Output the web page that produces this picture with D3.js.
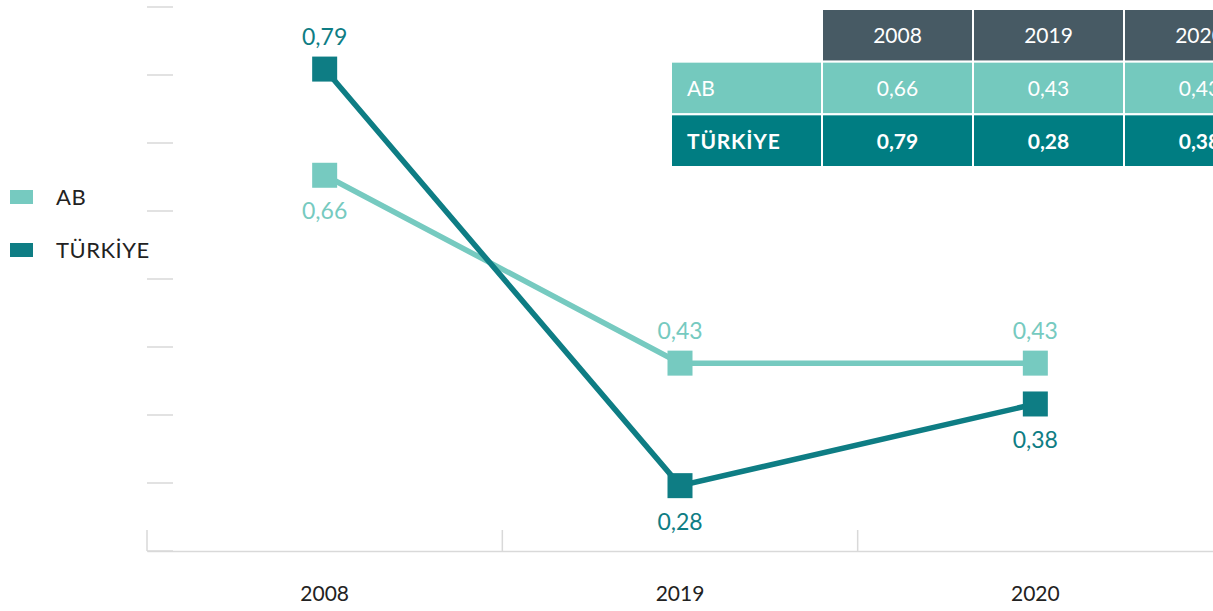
<!DOCTYPE html>
<html>
<head>
<meta charset="utf-8">
<script src="https://cdn.jsdelivr.net/npm/d3@7"></script>
<style>
  body { margin: 0; background: #fff; }
  svg { display: block; font-family: Lato, 'Open Sans', sans-serif; }
</style>
</head>
<body>
<div id="chart"></div>
<script>
// data
const years = ['2008', '2019', '2020'];
const abValues = [0.66, 0.43, 0.43];
const trValues = [0.79, 0.28, 0.38];
const seriesNames = ['AB', 'TÜRKİYE'];
const seriesColors = ['#76cac0', '#0e7d84'];
// label position per point: -1 above, 1 below
const abLabelSide = [1, -1, -1];
const trLabelSide = [-1, 1, 1];

const W = 1213, H = 611;
const fmt = v => d3.format('.2f')(v).replace('.', ',');

const svg = d3.select('div#chart').append('svg')
  .attr('width', W)
  .attr('height', H);

const x = d3.scaleBand().domain(years).range([147, 1213]).padding(0);
const y = d3.scaleLinear().domain([0.2, 0.866]).range([551, 7]);
const yTicks = d3.range(9).map(i => 0.2 + i * (0.666 / 8));

// short gray tick marks on the left
svg.append('g')
  .selectAll('line')
  .data(yTicks)
  .enter()
  .append('line')
  .attr('x1', 147)
  .attr('x2', 173)
  .attr('y1', d => y(d))
  .attr('y2', d => y(d))
  .attr('stroke', '#d9d9d9')
  .attr('stroke-width', 1.5);

// x axis
const xAxis = d3.axisBottom(x).tickSize(0).tickPadding(35);
const gx = svg.append('g')
  .attr('transform', `translate(0, ${y(0.2)})`)
  .call(xAxis);
gx.select('.domain').attr('stroke', '#d9d9d9').attr('stroke-width', 1.5);
gx.selectAll('text')
  .attr('font-size', 21)
  .attr('fill', '#222')
  .attr('font-family', 'Lato, sans-serif');
// band separators
svg.append('g')
  .selectAll('line')
  .data(years)
  .enter()
  .append('line')
  .attr('x1', d => x(d))
  .attr('x2', d => x(d))
  .attr('y1', y(0.2) - 21)
  .attr('y2', y(0.2))
  .attr('stroke', '#d9d9d9')
  .attr('stroke-width', 1.5);

const series = [
  { name: seriesNames[0], values: abValues, color: seriesColors[0], side: abLabelSide },
  { name: seriesNames[1], values: trValues, color: seriesColors[1], side: trLabelSide }
];

const line = d3.line()
  .x((d, i) => x(years[i]) + x.bandwidth() / 2)
  .y(d => y(d));

series.forEach(s => {
  svg.append('path')
    .datum(s.values)
    .attr('fill', 'none')
    .attr('stroke', s.color)
    .attr('stroke-width', 5.5)
    .attr('d', line);

  svg.append('g')
    .selectAll('rect')
    .data(s.values)
    .enter()
    .append('rect')
    .attr('x', (d, i) => x(years[i]) + x.bandwidth() / 2 - 12.5)
    .attr('y', d => y(d) - 12.5)
    .attr('width', 25)
    .attr('height', 25)
    .attr('fill', s.color);

  svg.append('g')
    .selectAll('text')
    .data(s.values)
    .enter()
    .append('text')
    .attr('x', (d, i) => x(years[i]) + x.bandwidth() / 2)
    .attr('y', (d, i) => y(d) + (s.side[i] < 0 ? -24 : 44))
    .attr('text-anchor', 'middle')
    .attr('font-size', 23)
    .attr('fill', s.color)
    .text(d => fmt(d));
});

// legend
const legend = svg.append('g');
series.forEach((s, i) => {
  const ly = 197 + i * 53;
  legend.append('rect')
    .attr('x', 10).attr('y', ly - 7)
    .attr('width', 23).attr('height', 14)
    .attr('fill', s.color);
  legend.append('text')
    .attr('x', 56).attr('y', ly + 8)
    .attr('font-size', 22)
    .attr('letter-spacing', 0.5)
    .attr('fill', '#222')
    .text(s.name);
});

// table at top right
const tCols = ['label'].concat(years);
const tx = d3.scaleBand().domain(tCols).range([671, 1275]);
const tRows = ['head', 'AB', 'TR'];
const ty = d3.scaleBand().domain(tRows).range([9, 167]);
const table = svg.append('g');

const cells = [];
years.forEach((yr, i) => cells.push({ row: 'head', col: yr, text: yr, fill: '#475a64', bold: false }));
cells.push({ row: 'AB', col: 'label', text: seriesNames[0], fill: '#74c9be', bold: false, left: true });
years.forEach((yr, i) => cells.push({ row: 'AB', col: yr, text: fmt(abValues[i]), fill: '#74c9be', bold: false }));
cells.push({ row: 'TR', col: 'label', text: seriesNames[1], fill: '#007d82', bold: true, left: true });
years.forEach((yr, i) => cells.push({ row: 'TR', col: yr, text: fmt(trValues[i]), fill: '#007d82', bold: true }));

table.selectAll('rect')
  .data(cells)
  .enter()
  .append('rect')
  .attr('x', d => tx(d.col))
  .attr('y', d => ty(d.row))
  .attr('width', tx.bandwidth())
  .attr('height', ty.bandwidth())
  .attr('fill', d => d.fill)
  .attr('stroke', '#fff')
  .attr('stroke-width', 2);

table.selectAll('text')
  .data(cells)
  .enter()
  .append('text')
  .attr('x', d => d.left ? tx(d.col) + 16 : tx(d.col) + tx.bandwidth() / 2)
  .attr('y', d => ty(d.row) + ty.bandwidth() / 2 + 8)
  .attr('text-anchor', d => d.left ? 'start' : 'middle')
  .attr('font-size', 21)
  .attr('letter-spacing', d => d.left && d.bold ? 0.8 : 0)
  .attr('font-weight', d => d.bold ? 700 : 400)
  .attr('fill', '#fff')
  .text(d => d.text);
</script>
</body>
</html>
